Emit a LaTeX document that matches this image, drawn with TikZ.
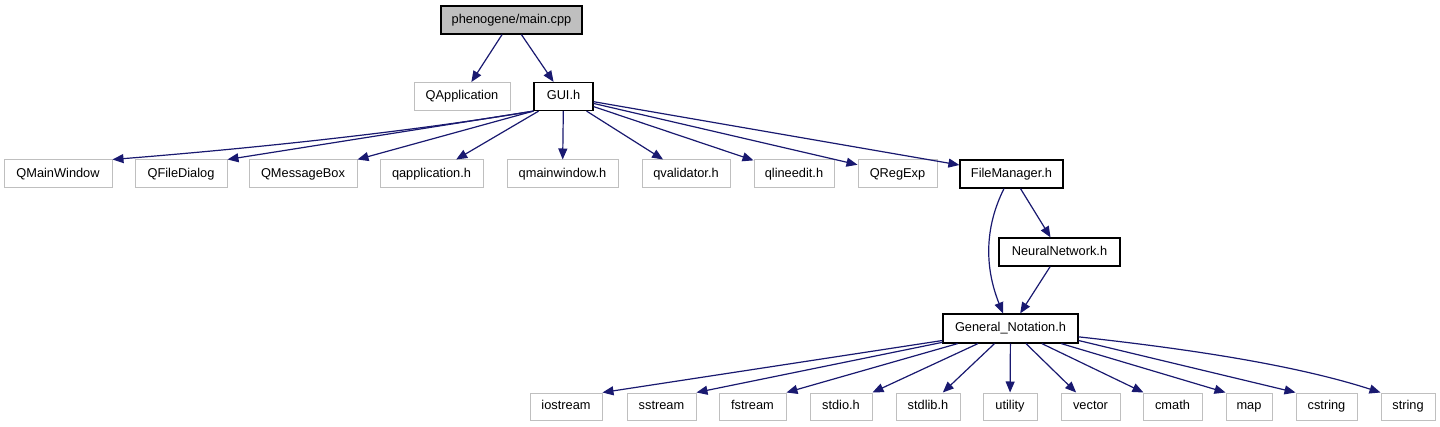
\documentclass[tikz,border=0pt]{standalone}
\usepackage{fontspec}
\setmainfont{Liberation Sans}
\usetikzlibrary{arrows.meta,calc}
\definecolor{edgeblue}{RGB}{25,25,112}
\definecolor{boxgray}{RGB}{191,191,191}
\begin{document}
\begin{tikzpicture}[x=1pt,y=-1pt,
  base/.style={rectangle, inner sep=0pt, minimum height=28pt, text height=9.6pt, text depth=2.8pt, font=\fontsize{12.8}{15}\selectfont, anchor=center},
  ext/.style={base, draw=boxgray, line width=1pt},
  hdr/.style={base, draw=black, line width=1.2pt},
  root/.style={hdr, fill=boxgray},
  low/.style={minimum height=27pt},
  dep/.style={draw=edgeblue, line width=1.2pt, -{Triangle[length=11pt,width=9pt,fill=edgeblue]}}
]
\useasboundingbox[fill=white] (0,0) rectangle (1440,427);
% top
\node[root, minimum width=141pt] (main) at (511.5,20) {phenogene/main.cpp};
\node[ext, minimum width=96pt] (qapp) at (462,96.5) {QApplication};
\node[hdr, minimum width=59pt] (gui) at (563.5,96.5) {GUI.h};
% row 2
\node[ext, minimum width=108pt] (qmw) at (58,174) {QMainWindow};
\node[ext, minimum width=92pt] (qfd) at (181,174) {QFileDialog};
\node[ext, minimum width=108pt] (qmb) at (303,174) {QMessageBox};
\node[ext, minimum width=103pt] (qah) at (431.5,174) {qapplication.h};
\node[ext, minimum width=111pt] (qmwh) at (562.5,174) {qmainwindow.h};
\node[ext, minimum width=88pt] (qval) at (686,174) {qvalidator.h};
\node[ext, minimum width=80pt] (qle) at (794,174) {qlineedit.h};
\node[ext, minimum width=79pt] (qre) at (897.5,174) {QRegExp};
\node[hdr, minimum width=103pt] (fm) at (1011.5,174) {FileManager.h};
% middle
\node[hdr, minimum width=121pt] (nn) at (1059.5,252) {NeuralNetwork.h};
\node[hdr, minimum width=135pt, minimum height=29pt] (gn) at (1010.5,328.5) {General\_Notation.h};
% bottom
\node[ext, low, minimum width=72pt] (io) at (566,406.5) {iostream};
\node[ext, low, minimum width=69pt] (ss) at (661.5,406.5) {sstream};
\node[ext, low, minimum width=67pt] (fs) at (752.5,406.5) {fstream};
\node[ext, low, minimum width=62pt] (sio) at (841,406.5) {stdio.h};
\node[ext, low, minimum width=64pt] (slib) at (928,406.5) {stdlib.h};
\node[ext, low, minimum width=54pt] (util) at (1010,406.5) {utility};
\node[ext, low, minimum width=59pt] (vec) at (1090.5,406.5) {vector};
\node[ext, low, minimum width=59pt] (cm) at (1172.5,406.5) {cmath};
\node[ext, low, minimum width=46pt] (map) at (1249,406.5) {map};
\node[ext, low, minimum width=61pt] (cs) at (1326.5,406.5) {cstring};
\node[ext, low, minimum width=54pt] (str) at (1408,406.5) {string};
% edges from main
\draw[dep] (main) -- (qapp);
\draw[dep] (main) -- (gui);
% edges from GUI.h
\draw[dep] (gui.south west) .. controls +(-120,20) and +(150,-12) .. (qmw.north east);
\draw[dep] (gui.south west) -- (qfd.north east);
\draw[dep] (gui.south west) -- (qmb.north east);
\draw[dep] (gui) -- (qah);
\draw[dep] (gui) -- (qmwh);
\draw[dep] (gui) -- (qval);
\draw[dep] (gui) -- (qle);
\draw[dep] (gui) -- (qre);
\draw[dep] (gui) -- (fm);
% FileManager
\draw[dep] ($(fm.south)+(-7.5,0)$) .. controls +(-20,40) and +(-18,-45) .. ($(gn.north)+(-7.5,0)$);
\draw[dep] (fm) -- (nn);
\draw[dep] (nn) -- (gn);
% General_Notation
\draw[dep] (gn.190) -- (io.north east);
\draw[dep] (gn) -- (ss.north east);
\draw[dep] (gn) -- (fs.north east);
\draw[dep] (gn) -- (sio.north east);
\draw[dep] (gn) -- (slib);
\draw[dep] (gn) -- (util);
\draw[dep] (gn) -- (vec);
\draw[dep] (gn) -- (cm);
\draw[dep] (gn) -- (map.north west);
\draw[dep] (gn.-10) -- (cs.north west);
\draw[dep] (gn.-7) .. controls +(100,11) and +(-90,-29) .. (str.north west);
\end{tikzpicture}
\end{document}
